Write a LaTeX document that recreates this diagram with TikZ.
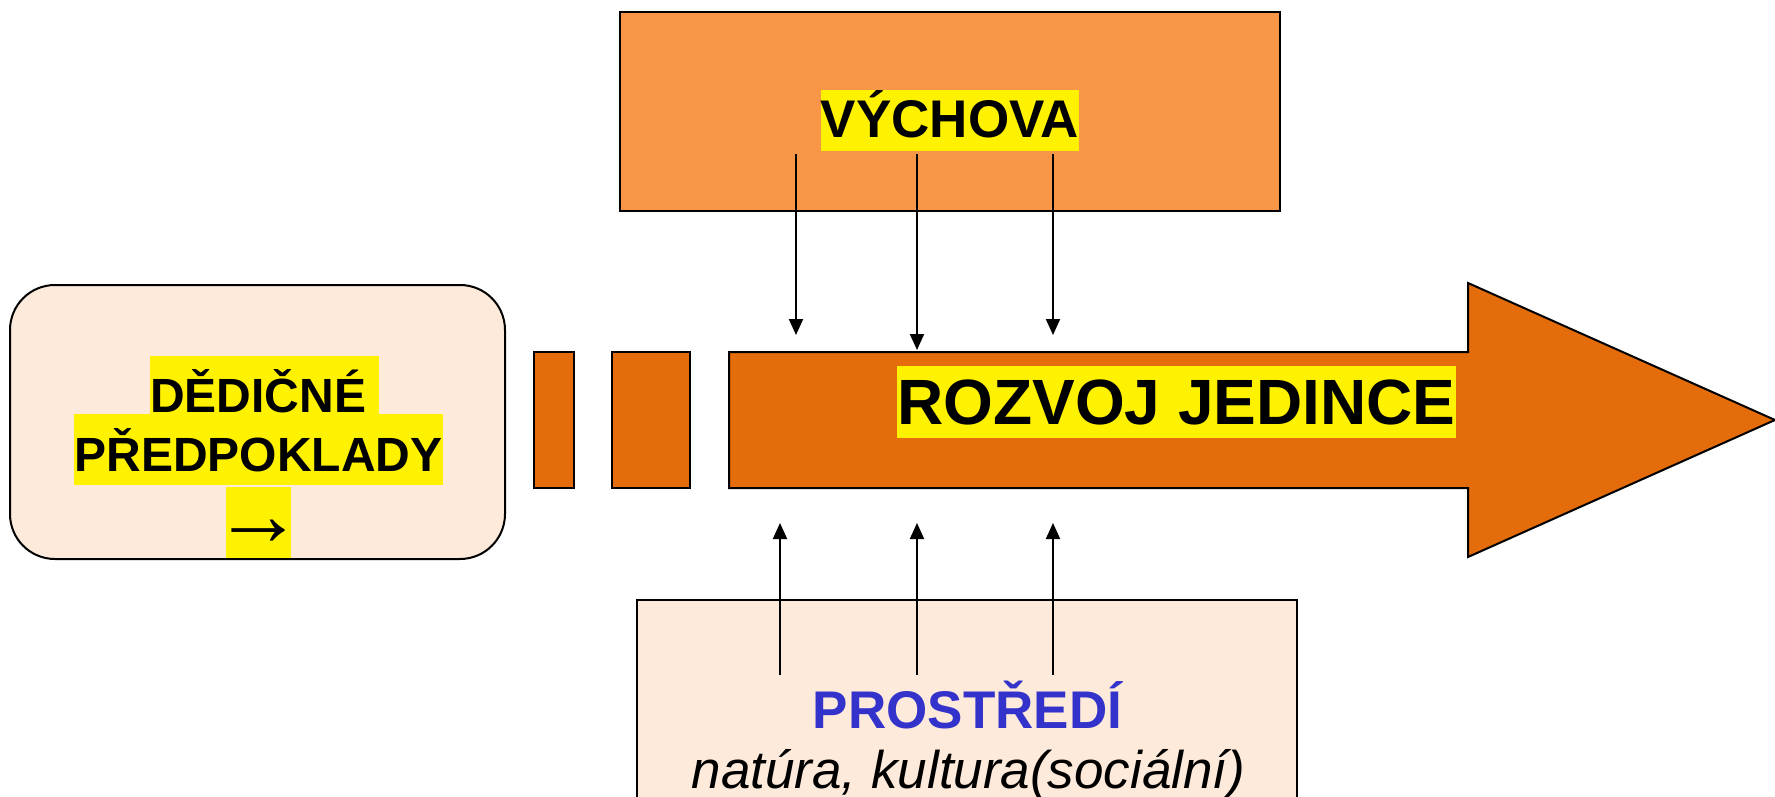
\documentclass[tikz,border=0pt]{standalone}
\usepackage{fontspec}
\setmainfont{Liberation Sans}
\newfontfamily\arrowfont{Liberation Serif}
\usetikzlibrary{arrows.meta}
\definecolor{peach}{HTML}{FDEADA}
\definecolor{lightorange}{HTML}{F79646}
\definecolor{darkorange}{HTML}{E46C0A}
\definecolor{textblue}{HTML}{3333CC}
\tikzset{
  box/.style={draw,line width=2pt},
  hilite/.style={fill=yellow,inner sep=0pt,text depth=13pt,anchor=base},
  infl/.style={line width=2pt,-{Triangle[length=16pt,width=14pt]}},
  big/.style={font=\bfseries\fontsize{#1}{#1}\selectfont}
}
\begin{document}
\begin{tikzpicture}[x=1pt,y=-1pt]
    \clip (0,0) rectangle (1775,797);
    \node[box,fill=peach,rounded corners=45pt,minimum width=495pt,minimum height=274pt] (dedic) at (257.5,422) {};
    \node[box,fill=lightorange,minimum width=660pt,minimum height=199pt] (vychova) at (950,111.5) {};
    \node[box,fill=peach,minimum width=660pt,minimum height=220pt] (prostredi) at (967,710) {};
    \node[box,fill=darkorange,minimum width=40pt,minimum height=136pt] (step1) at (554,420) {};
    \node[box,fill=darkorange,minimum width=78pt,minimum height=136pt] (step2) at (651,420) {};
    \draw[box,fill=darkorange] (729,352) -- (1468,352) -- (1468,283) -- (1775,420)
        -- (1468,557) -- (1468,488) -- (729,488) -- cycle;
    \node[hilite,big=48,text height=57pt,anchor=base west] (dedic1) at (150,412.5) {DĚDIČNÉ\kern13pt};
    \node[hilite,big=48,text height=58pt,text depth=13.5pt] (dedic2) at (258.5,471.5) {PŘEDPOKLADY};
    \node[hilite,font=\arrowfont\fontsize{90}{90}\selectfont,minimum width=65pt,text height=58pt,text depth=13pt] (dedic3) at (258,545) {\makebox[0pt]{→}};
    \node[hilite,big=53,text height=48pt] (vtext) at (950,138) {VÝCHOVA};
    \node[hilite,big=64,text height=58pt,text depth=14pt] (rozvoj) at (1176.5,424) {ROZVOJ JEDINCE};
    \node[big=53,text=textblue,anchor=base,inner sep=0pt] (ptext) at (967.5,728) {PROSTŘEDÍ};
    \node[font=\itshape\fontsize{53}{53}\selectfont,anchor=base,inner sep=0pt] (psub) at (968.5,788) {natúra, kultura(sociální)};
    \foreach \i/\x/\e in {1/796/335,2/917/350,3/1053/335} {
        \coordinate (vs\i) at (\x,154);
        \coordinate (ve\i) at (\x,\e);
        \draw[infl] (vs\i) -- (ve\i);
    }
    \foreach \i/\x in {1/780,2/917,3/1053} {
        \coordinate (ps\i) at (\x,675);
        \coordinate (pe\i) at (\x,523);
        \draw[infl] (ps\i) -- (pe\i);
    }
\end{tikzpicture}
\end{document}
